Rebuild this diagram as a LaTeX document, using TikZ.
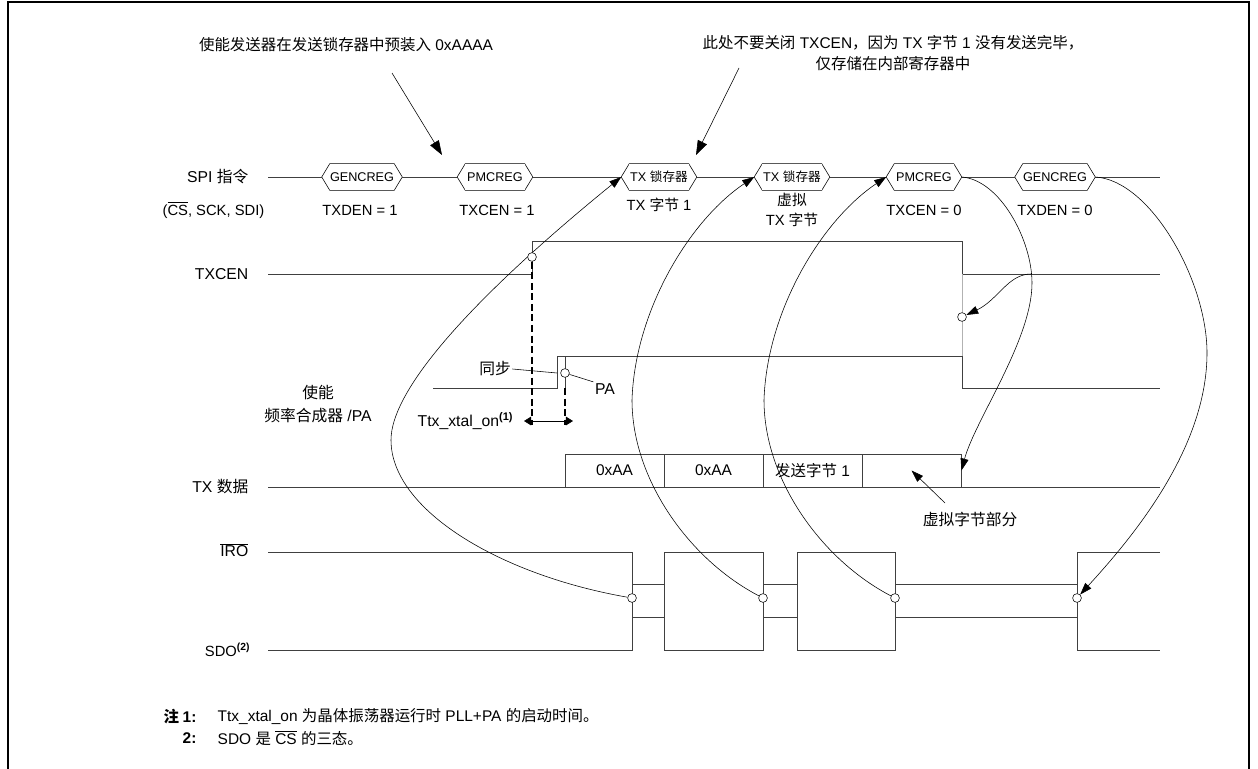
\documentclass[tikz,border=0pt]{standalone}
\usepackage{fontspec}
\setmainfont{Liberation Sans}
\newfontfamily\zhfont{Noto Sans CJK SC}
\newcommand{\zh}[1]{{\zhfont #1}}
\usepackage{tikz}
\usetikzlibrary{arrows.meta}

\begin{document}
\begin{tikzpicture}[
    x=0.025cm, y=-0.025cm,
    lbl/.style={
        font=\fontsize{10.5}{13}\selectfont,
        inner sep=1pt
    },
    siglbl/.style={
        font=\fontsize{11.2}{13}\selectfont,
        inner sep=1pt
    },
    note/.style={
        font=\fontsize{11}{15}\selectfont,
        inner sep=1pt
    },
    hexa/.style={
        rectangle,
        fill=white,
        minimum width=1.475cm,
        minimum height=0.65cm,
        inner sep=0pt,
        font=\fontsize{9}{10}\selectfont,
        append after command={\pgfextra{
            \draw (\tikzlastnode.north west) -- (\tikzlastnode.north east)
                -- ([xshift=0.2cm]\tikzlastnode.east) -- (\tikzlastnode.south east)
                -- (\tikzlastnode.south west) -- ([xshift=-0.2cm]\tikzlastnode.west)
                -- cycle;
        }}
    },
    wave/.style={
        line width=0.6pt,
        black!75
    },
    dot/.style={
        circle,
        draw,
        fill=white,
        minimum size=0.22cm,
        inner sep=0pt
    },
    databox/.style={
        rectangle,
        draw=black!75,
        line width=0.6pt,
        minimum width=2.475cm,
        minimum height=0.825cm,
        font=\fontsize{11}{13}\selectfont
    },
    arrow/.style={
        -{Triangle[length=0.3cm, width=0.2cm]},
        thin
    },
    bigarrow/.style={
        -{Triangle[length=0.36cm, width=0.25cm]},
        thin
    }
]

\useasboundingbox (0,0) rectangle (1258,769);

% frame
\draw[line width=1.4pt] (8,769) -- (8,2) -- (1249,2) -- (1249,769);

% signal names
\node[siglbl, anchor=east] (spi) at (250,177) {SPI \zh{指令}};
\node[lbl, anchor=east] (spisub) at (266,210) {($\overline{\mbox{CS}}$, SCK, SDI)};
\node[siglbl, anchor=east] (txcenl) at (250,274) {TXCEN};
\node[siglbl, align=center, font=\fontsize{11.2}{16.5}\selectfont] (enl) at (318,404)
{\zh{使能}\\
\zh{频率合成器} /PA};
\node[siglbl, anchor=east] (txdl) at (250,487) {TX \zh{数据}};
\node[siglbl, anchor=east] (irql) at (250,550) {$\overline{\mbox{IRO}}$};
\node[lbl, anchor=east] (sdol) at (252,650) {SDO\textsuperscript{\textbf{(2)}}};

% SPI commands
\node[hexa] (gen1) at (362,177) {GENCREG};
\node[hexa] (pmc1) at (495,177) {PMCREG};
\node[hexa] (lat1) at (659,177) {TX \zh{锁存器}};
\node[hexa] (lat2) at (792,177) {TX \zh{锁存器}};
\node[hexa] (pmc2) at (924,177) {PMCREG};
\node[hexa] (gen2) at (1055,177) {GENCREG};

\draw[wave] (268,177) -- ([xshift=-0.2cm]gen1.west)
    ([xshift=0.2cm]gen1.east) -- ([xshift=-0.2cm]pmc1.west)
    ([xshift=0.2cm]pmc1.east) -- ([xshift=-0.2cm]lat1.west)
    ([xshift=0.2cm]lat1.east) -- ([xshift=-0.2cm]lat2.west)
    ([xshift=0.2cm]lat2.east) -- ([xshift=-0.2cm]pmc2.west)
    ([xshift=0.2cm]pmc2.east) -- ([xshift=-0.2cm]gen2.west)
    ([xshift=0.2cm]gen2.east) -- (1160,177);

\node[lbl] (gen1v) at (360,210) {TXDEN = 1};
\node[lbl] (pmc1v) at (497,210) {TXCEN = 1};
\node[lbl] (lat1v) at (659,205) {TX \zh{字节} 1};
\node[lbl, align=center, font=\fontsize{10.5}{14}\selectfont] (lat2v) at (792,210)
{\zh{虚拟}\\
TX \zh{字节}};
\node[lbl] (pmc2v) at (924,210) {TXCEN = 0};
\node[lbl] (gen2v) at (1055,210) {TXDEN = 0};

% TXCEN and PA
\draw[wave] (268,274) -- (532,274) -- (532,241) -- (962,241) -- (962,274) -- (1160,274);
\draw[black!30, line width=0.6pt] (962,274) -- (962,356);
\draw[wave] (433,388) -- (557,388) -- (557,356) -- (962,356) -- (962,388) -- (1160,388);
\draw[wave] (565,356) -- (565,388);

% TX data
\draw[wave] (268,487) -- (1160,487);
\node[databox] (b1) at (614.5,470.5) {0xAA};
\node[databox] (b2) at (713.5,470.5) {0xAA};
\node[databox] (b3) at (812.5,470.5) {\zh{发送字节} 1};
\node[databox] (b4) at (911.5,470.5) {};

\node[siglbl] (dummy) at (970,519) {\zh{虚拟字节部分}};
\coordinate (dm) at (945,503);
\draw[arrow] (dm) -- (b4.center);

% IRQ / SDO
\draw[wave] (268,552) -- (632,552) -- (632,617) -- (664,617) -- (664,552) -- (763,552)
    -- (763,617) -- (797,617) -- (797,552) -- (895,552) -- (895,617) -- (1077,617)
    -- (1077,552) -- (1160,552);
\draw[wave] (268,650) -- (632,650) -- (632,584) -- (664,584) -- (664,650) -- (763,650)
    -- (763,584) -- (797,584) -- (797,650) -- (895,650) -- (895,584) -- (1077,584)
    -- (1077,650) -- (1160,650);

\node[dot] (i1) at (632,598) {};
\node[dot] (i2) at (763,598) {};
\node[dot] (i3) at (895,598) {};
\node[dot] (i4) at (1077,598) {};
\node[dot] (c3) at (962,317) {};

% curves
\draw[arrow] (i1) .. controls (500,575) and (391,510) .. (391,440)
    .. controls (391,390) and (470,300) .. ([xshift=-0.2cm]lat1.west);
\draw[arrow] (i2) .. controls (690,560) and (632,480) .. (632,400)
    .. controls (635,310) and (690,220) .. ([xshift=-0.2cm]lat2.west);
\draw[arrow] (i3) .. controls (822,560) and (764,480) .. (764,400)
    .. controls (767,310) and (822,220) .. ([xshift=-0.2cm]pmc2.west);
\draw[arrow] ([xshift=0.2cm]pmc2.east) .. controls (1000,180) and (1032,240) .. (1032,283)
    .. controls (1032,340) and (975,420) .. (b4.east);
\coordinate (br) at (1031,274);
\draw[arrow] (br) .. controls (1008,274) and (998,300) .. (c3);
\draw[arrow] ([xshift=0.2cm]gen2.east) .. controls (1150,180) and (1207,280) .. (1207,353)
    .. controls (1207,450) and (1130,540) .. (i4);

% start-up of PLL+PA
\node[dot] (c1) at (532,257) {};
\node[dot] (c2) at (565,373) {};
\draw[line width=1.2pt, dash pattern=on 5pt off 2.5pt] (c1.south) -- (532,425);
\draw[line width=1.2pt, dash pattern=on 5pt off 2.5pt] (565,388) -- (565,425);
\coordinate (tl) at (524,421);
\coordinate (tr) at (573,421);
\draw[{Triangle[length=0.18cm, width=0.22cm]}-{Triangle[length=0.18cm, width=0.22cm]}] (tl) -- (tr);
\node[siglbl, anchor=east] (ttx) at (515,421) {Ttx\_xtal\_on\textsuperscript{\textbf{(1)}}};

\node[siglbl] (sync) at (495,369) {\zh{同步}};
\draw (sync.east) -- (557,373);
\node[siglbl] (pa) at (605,389) {PA};
\draw (c2) -- (pa.north west);

% remarks at the top
\node[note] (ann1) at (346,45) {\zh{使能发送器在发送锁存器中预装入} 0xAAAA};
\coordinate (a1s) at (392,73);
\coordinate (a1e) at (442,155);
\draw[bigarrow] (a1s) -- (a1e);

\node[note, align=center] (ann2) at (893,53)
{\zh{此处不要关闭} TXCEN\zh{，因为} TX \zh{字节} 1 \zh{没有发送完毕，}\\
\zh{仅存储在内部寄存器中}};
\coordinate (a2s) at (739,68);
\coordinate (a2e) at (696,155);
\draw[bigarrow] (a2s) -- (a2e);

% notes
\node[note, anchor=west] (nh) at (162,717) {\textbf{\zh{注}}};
\node[note, anchor=west] (n1n) at (181,717) {\textbf{1:}};
\node[note, anchor=west] (n1) at (216,717)
{Ttx\_xtal\_on \zh{为晶体振荡器运行时} PLL+PA \zh{的启动时间。}};
\node[note, anchor=west] (n2n) at (181,738) {\textbf{2:}};
\node[note, anchor=west] (n2) at (216,738) {SDO \zh{是} $\overline{\mbox{CS}}$ \zh{的三态。}};

\end{tikzpicture}
\end{document}
